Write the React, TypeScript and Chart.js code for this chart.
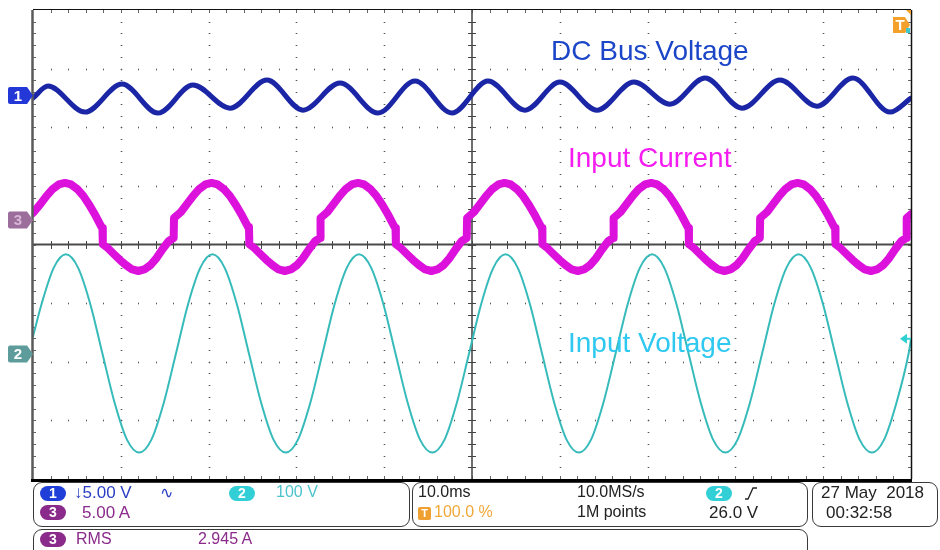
import React, { useEffect, useRef } from "react";
import { Chart, registerables } from "chart.js";

Chart.register(...registerables);

// ---- Data (read from the scope screen) ----
// time axis in ms, 10 ms/div, 10 divisions
const TIME_MIN = 0;
const TIME_MAX = 100;

// CH1: DC bus voltage (AC coupled ripple, volts)
const dcBusTime = [0, 1.71, 5.92, 10.14, 14.24, 18.22, 22.44, 26.65, 30.75, 34.97, 39.29, 43.51, 47.72, 51.82, 56.04, 60.02, 64.24, 68.45, 72.55, 76.54, 80.75, 85.08, 89.29, 93.39, 97.61, 100];
const dcBusRipple = [-0.21, 0.81, -1.41, 0.98, -1.49, 0.9, -1.07, 1.32, -1.24, 1.07, -1.49, 1.24, -1.49, 1.24, -1.24, 1.15, -1.24, 1.15, -0.73, 1.49, -1.07, 1.32, -0.9, 1.49, -1.41, -0.21];

// CH3: input current (amps)
const currentTime = [
  0, 0.86, 1.55, 2.25, 2.94,
  3.64, 4.34, 5.03, 5.73, 6.42, 7.12, 7.81, 7.91, 7.95, 8.51, 9.2, 9.9, 10.59, 11.29, 11.99, 12.68, 13.38, 14.07, 14.77, 15.46, 16.02, 16.06, 16.85, 17.55, 18.24, 18.94, 19.63,
  20.33, 21.03, 21.72, 22.42, 23.11, 23.81, 24.5, 24.6, 24.64, 25.2, 25.89, 26.59, 27.28, 27.98, 28.68, 29.37, 30.07, 30.76, 31.46, 32.15, 32.71, 32.75, 33.54, 34.24, 34.93, 35.63, 36.32,
  37.02, 37.72, 38.41, 39.11, 39.8, 40.5, 41.19, 41.29, 41.33, 41.89, 42.58, 43.28, 43.97, 44.67, 45.37, 46.06, 46.76, 47.45, 48.15, 48.84, 49.4, 49.44, 50.23, 50.93, 51.62, 52.32, 53.01,
  53.71, 54.41, 55.1, 55.8, 56.49, 57.19, 57.88, 57.98, 58.02, 58.58, 59.27, 59.97, 60.66, 61.36, 62.06, 62.75, 63.45, 64.14, 64.84, 65.53, 66.09, 66.13, 66.92, 67.62, 68.31, 69.01, 69.7,
  70.4, 71.1, 71.79, 72.49, 73.18, 73.88, 74.57, 74.67, 74.71, 75.27, 75.96, 76.66, 77.35, 78.05, 78.75, 79.44, 80.14, 80.83, 81.53, 82.22, 82.78, 82.82, 83.61, 84.31, 85.0, 85.7, 86.39,
  87.09, 87.79, 88.48, 89.18, 89.87, 90.57, 91.26, 91.36, 91.4, 91.96, 92.65, 93.35, 94.04, 94.74, 95.44, 96.13, 96.83, 97.52, 98.22, 98.91, 99.47, 99.51, 100,
];
const currentAmps = [
  0.6, 1.37, 2.06, 2.65, 3.03,
  3.16, 3.03, 2.65, 2.06, 1.28, 0.38, -0.6, -0.68, -2.05, -2.39, -2.9, -3.41, -3.85, -4.22, -4.35, -4.22, -3.85, -3.25, -2.47, -1.79, -1.54, 0.17, 0.68, 1.37, 2.06, 2.65, 3.03,
  3.16, 3.03, 2.65, 2.06, 1.28, 0.38, -0.6, -0.68, -2.05, -2.39, -2.9, -3.41, -3.85, -4.22, -4.35, -4.22, -3.85, -3.25, -2.47, -1.79, -1.54, 0.17, 0.68, 1.37, 2.06, 2.65, 3.03,
  3.16, 3.03, 2.65, 2.06, 1.28, 0.38, -0.6, -0.68, -2.05, -2.39, -2.9, -3.41, -3.85, -4.22, -4.35, -4.22, -3.85, -3.25, -2.47, -1.79, -1.54, 0.17, 0.68, 1.37, 2.06, 2.65, 3.03,
  3.16, 3.03, 2.65, 2.06, 1.28, 0.38, -0.6, -0.68, -2.05, -2.39, -2.9, -3.41, -3.85, -4.22, -4.35, -4.22, -3.85, -3.25, -2.47, -1.79, -1.54, 0.17, 0.68, 1.37, 2.06, 2.65, 3.03,
  3.16, 3.03, 2.65, 2.06, 1.28, 0.38, -0.6, -0.68, -2.05, -2.39, -2.9, -3.41, -3.85, -4.22, -4.35, -4.22, -3.85, -3.25, -2.47, -1.79, -1.54, 0.17, 0.68, 1.37, 2.06, 2.65, 3.03,
  3.16, 3.03, 2.65, 2.06, 1.28, 0.38, -0.6, -0.68, -2.05, -2.39, -2.9, -3.41, -3.85, -4.22, -4.35, -4.22, -3.85, -3.25, -2.47, -1.79, -1.54, 0.17, 0.49,
];

// CH2: input voltage (volts)
const inputVoltageTime = [
  0, 0.97, 2.36, 3.75, 5.14, 6.53, 7.92, 9.31, 10.7, 12.1, 13.49, 14.88, 16.27, 17.66, 19.05,
  20.44, 21.83, 23.22, 24.61, 26.0, 27.39, 28.79, 30.18, 31.57, 32.96, 34.35, 35.74,
  37.13, 38.52, 39.91, 41.3, 42.69, 44.08, 45.48, 46.87, 48.26, 49.65, 51.04, 52.43,
  53.82, 55.21, 56.6, 57.99, 59.38, 60.77, 62.17, 63.56, 64.95, 66.34, 67.73, 69.12,
  70.51, 71.9, 73.29, 74.68, 76.07, 77.46, 78.86, 80.25, 81.64, 83.03, 84.42, 85.81,
  87.2, 88.59, 89.98, 91.37, 92.76, 94.15, 95.55, 96.94, 98.33, 99.72, 100,
];
const inputVoltage = [
  30, 85, 147, 170, 147, 85, 0, -84, -146, -168, -146, -84, 0, 85, 147,
  170, 147, 85, 0, -84, -146, -168, -146, -84, 0, 85, 147,
  170, 147, 85, 0, -84, -146, -168, -146, -84, 0, 85, 147,
  170, 147, 85, 0, -84, -146, -168, -146, -84, 0, 85, 147,
  170, 147, 85, 0, -84, -146, -168, -146, -84, 0, 85, 147,
  170, 147, 85, 0, -84, -146, -168, -146, -84, 0, 25,
];

const triggerLevelVolts = 26.0;

// ---- Display settings ----
const CH1 = { perDiv: 5, offset: 2.54, color: "#1b26a6", marker: "#2338d6", markerText: "#ffffff", label: "1" };
const CH3 = { perDiv: 5, offset: 0.418, color: "#dc12dc", marker: "#9c6e9c", markerText: "#d8b8d8", label: "3" };
const CH2 = { perDiv: 100, offset: -1.868, color: "#36baba", marker: "#5e9c9c", markerText: "#ffffff", label: "2" };

const toPoints = (ts: number[], vs: number[], ch: { perDiv: number; offset: number }) =>
  ts.map((t, i) => ({ x: t, y: vs[i] / ch.perDiv + ch.offset }));

const FONT = "'Liberation Sans', Arial, sans-serif";

const scopeGrid = {
  id: "scopeGrid",
  beforeDatasetsDraw(chart: any) {
    const { ctx, chartArea: a, scales } = chart;
    const x = scales.x;
    const y = scales.y;
    ctx.save();
    // dotted major grid with 1/5-division dots
    for (let i = 1; i < 10; i++) {
      if (i === 5) continue;
      const px = Math.round(x.getPixelForValue(i * 10));
      for (let j = 1; j < 40; j++) {
        const py = Math.round(y.getPixelForValue(-4 + j * 0.2));
        ctx.fillStyle = "#c8c8c8";
        ctx.fillRect(px - 1, py, 3, 1);
        ctx.fillStyle = "#555";
        ctx.fillRect(px, py, 1, 1);
      }
    }
    for (let k = -3; k <= 3; k++) {
      if (k === 0) continue;
      const py = Math.round(y.getPixelForValue(k));
      for (let j = 1; j < 50; j++) {
        const px = Math.round(x.getPixelForValue(j * 2));
        ctx.fillStyle = "#c8c8c8";
        ctx.fillRect(px, py - 1, 1, 3);
        ctx.fillStyle = "#555";
        ctx.fillRect(px, py, 1, 1);
      }
    }
    // edge ticks
    ctx.fillStyle = "#666";
    for (let j = 1; j < 40; j++) {
      const py = Math.round(y.getPixelForValue(-4 + j * 0.2));
      ctx.fillRect(a.left, py, 3, 1);
      ctx.fillRect(a.right - 3, py, 3, 1);
    }
    for (let j = 1; j < 50; j++) {
      const px = Math.round(x.getPixelForValue(j * 2));
      ctx.fillRect(px, a.top, 1, 3);
      ctx.fillRect(px, a.bottom - 3, 1, 3);
    }
    // center cross
    const cy = y.getPixelForValue(0);
    const cx = x.getPixelForValue(50);
    ctx.strokeStyle = "#4a4a4a";
    ctx.lineWidth = 2;
    ctx.beginPath();
    ctx.moveTo(a.left, cy);
    ctx.lineTo(a.right, cy);
    ctx.stroke();
    ctx.lineWidth = 1.6;
    ctx.beginPath();
    ctx.moveTo(cx, a.top);
    ctx.lineTo(cx, a.bottom);
    ctx.stroke();
    ctx.fillStyle = "#444";
    for (let j = 1; j < 50; j++) {
      const px = Math.round(x.getPixelForValue(j * 2));
      ctx.fillRect(px, Math.round(cy) - 4, 1, 8);
    }
    for (let j = 1; j < 40; j++) {
      const py = Math.round(y.getPixelForValue(-4 + j * 0.2));
      ctx.fillRect(Math.round(cx) - 4, py, 8, 1);
    }
    ctx.restore();
  },
  afterDatasetsDraw(chart: any) {
    const { ctx, chartArea: a, scales } = chart;
    const x = scales.x;
    const y = scales.y;
    ctx.save();
    // frame
    ctx.strokeStyle = "#111";
    ctx.lineWidth = 1;
    ctx.beginPath();
    ctx.moveTo(a.left, a.top - 0.5);
    ctx.lineTo(a.right, a.top - 0.5);
    ctx.stroke();
    ctx.lineWidth = 1.5;
    ctx.beginPath();
    ctx.moveTo(a.right + 0.5, a.top);
    ctx.lineTo(a.right + 0.5, a.bottom);
    ctx.stroke();
    ctx.strokeStyle = "#5a5a5a";
    ctx.lineWidth = 2.5;
    ctx.beginPath();
    ctx.moveTo(a.left - 0.5, a.top);
    ctx.lineTo(a.left - 0.5, a.bottom);
    ctx.stroke();
    ctx.strokeStyle = "#000";
    ctx.lineWidth = 3;
    ctx.beginPath();
    ctx.moveTo(a.left - 2, a.bottom + 1.5);
    ctx.lineTo(a.right + 1, a.bottom + 1.5);
    ctx.stroke();

    // channel ground markers on the left
    const drawMarker = (ch: any) => {
      const cy = y.getPixelForValue(ch.offset);
      const l = 8, r = 27, tip = a.left, h = 8.5;
      ctx.fillStyle = ch.marker;
      ctx.beginPath();
      ctx.moveTo(l + 2, cy - h);
      ctx.lineTo(r, cy - h);
      ctx.lineTo(tip, cy);
      ctx.lineTo(r, cy + h);
      ctx.lineTo(l + 2, cy + h);
      ctx.quadraticCurveTo(l, cy + h, l, cy + h - 2);
      ctx.lineTo(l, cy - h + 2);
      ctx.quadraticCurveTo(l, cy - h, l + 2, cy - h);
      ctx.closePath();
      ctx.fill();
      ctx.fillStyle = ch.markerText;
      ctx.font = `bold 15px ${FONT}`;
      ctx.textAlign = "center";
      ctx.textBaseline = "middle";
      ctx.fillText(ch.label, 18, cy + 1);
    };
    drawMarker(CH1);
    drawMarker(CH3);
    drawMarker(CH2);

    // trigger position marker (top right)
    const tx = x.getPixelForValue(TIME_MAX);
    ctx.fillStyle = "#f3a12a";
    ctx.beginPath();
    ctx.moveTo(tx - 18, a.top + 7);
    ctx.lineTo(tx - 6, a.top + 7);
    ctx.lineTo(tx - 1, a.top + 15);
    ctx.lineTo(tx - 6, a.top + 23);
    ctx.lineTo(tx - 18, a.top + 23);
    ctx.closePath();
    ctx.fill();
    ctx.beginPath();
    ctx.moveTo(tx - 5, a.top);
    ctx.lineTo(tx, a.top);
    ctx.lineTo(tx, a.top + 5);
    ctx.closePath();
    ctx.fill();
    ctx.fillStyle = "#fff";
    ctx.font = `bold 15px ${FONT}`;
    ctx.textAlign = "center";
    ctx.textBaseline = "middle";
    ctx.fillText("T", tx - 11, a.top + 16);
    ctx.fillStyle = "#3fc9c9";
    ctx.fillRect(tx - 5, a.top + 18, 4, 5);

    // trigger level marker (right, on CH2)
    const ty = y.getPixelForValue(triggerLevelVolts / CH2.perDiv + CH2.offset);
    ctx.fillStyle = "#2fd0d0";
    ctx.beginPath();
    ctx.moveTo(tx - 11, ty);
    ctx.lineTo(tx - 4, ty - 5);
    ctx.lineTo(tx - 4, ty + 5);
    ctx.closePath();
    ctx.fill();
    ctx.fillRect(tx - 5, ty - 1, 5, 2);
    ctx.restore();
  },
};

const Badge = ({ left, top, bg, text }: { left: number; top: number; bg: string; text: string }) => (
  <div
    style={{
      position: "absolute",
      left,
      top,
      width: 26,
      height: 15,
      borderRadius: 8,
      background: bg,
      color: "#fff",
      font: `bold 14px ${FONT}`,
      lineHeight: "15px",
      textAlign: "center",
    }}
  >
    {text}
  </div>
);

const Txt = ({ left, cy, color, size = 16, children }: { left: number; cy: number; color: string; size?: number; children: any }) => (
  <div
    style={{
      position: "absolute",
      left,
      top: cy - 10,
      height: 20,
      lineHeight: "20px",
      font: `${size}px ${FONT}`,
      color,
      whiteSpace: "pre",
    }}
  >
    {children}
  </div>
);

const Box = ({ left, top, width, height }: { left: number; top: number; width: number; height: number }) => (
  <div
    style={{
      position: "absolute",
      left,
      top,
      width,
      height,
      border: "1.5px solid #3a3a3a",
      borderRadius: 9,
      boxSizing: "border-box",
    }}
  />
);

const Label = ({ left, top, color, children }: { left: number; top: number; color: string; children: any }) => (
  <div
    style={{
      position: "absolute",
      left,
      top,
      font: `28px ${FONT}`,
      lineHeight: "28px",
      color,
      whiteSpace: "pre",
    }}
  >
    {children}
  </div>
);

export default function App() {
  const canvasRef = useRef<HTMLCanvasElement | null>(null);

  useEffect(() => {
    if (!canvasRef.current) return;
    const chart = new Chart(canvasRef.current, {
      type: "line",
      data: {
        datasets: [
          {
            label: "DC Bus Voltage",
            data: toPoints(dcBusTime, dcBusRipple, CH1),
            borderColor: CH1.color,
            borderWidth: 5,
            cubicInterpolationMode: "monotone",
          },
          {
            label: "Input Current",
            data: toPoints(currentTime, currentAmps, CH3),
            borderColor: CH3.color,
            borderWidth: 8,
            cubicInterpolationMode: "default",
            tension: 0,
          },
          {
            label: "Input Voltage",
            data: toPoints(inputVoltageTime, inputVoltage, CH2),
            borderColor: CH2.color,
            borderWidth: 2,
            cubicInterpolationMode: "monotone",
          },
        ],
      },
      options: {
        animation: false,
        responsive: false,
        devicePixelRatio: 1,
        layout: { padding: { left: 33, right: 29, top: 10, bottom: 71 } },
        scales: {
          x: { type: "linear", min: TIME_MIN, max: TIME_MAX, display: false },
          y: { type: "linear", min: -4, max: 4, display: false },
        },
        plugins: { legend: { display: false }, tooltip: { enabled: false } },
        elements: {
          point: { radius: 0 },
          line: { borderJoinStyle: "round", borderCapStyle: "round" },
        },
      },
      plugins: [scopeGrid],
    } as any);
    return () => chart.destroy();
  }, []);

  return (
    <div style={{ position: "fixed", left: 0, top: 0, width: 940, height: 550, background: "#fff", overflow: "hidden" }}>
      <canvas ref={canvasRef} width={940} height={550} style={{ position: "absolute", left: 0, top: 0 }} />
      <Label left={551} top={37} color="#1c46c8">DC Bus Voltage</Label>
      <Label left={568} top={144} color="#f41cf0">Input Current</Label>
      <Label left={568} top={329} color="#2ec8f0">Input Voltage</Label>

      <Box left={33} top={482} width={377} height={45} />
      <Box left={412} top={482} width={396} height={45} />
      <Box left={812} top={482} width={126} height={45} />
      <Box left={33} top={529} width={775} height={32} />

      <Badge left={40} top={486} bg="#1f3fd8" text="1" />
      <Txt left={74} cy={493} color="#2a3ec4" size={17}>{"↓5.00 V"}</Txt>
      <Txt left={160} cy={493} color="#2a3ec4">{"∿"}</Txt>
      <Badge left={229} top={486} bg="#33cfd6" text="2" />
      <Txt left={276} cy={493} color="#4cc4cc">{"100 V"}</Txt>
      <Badge left={40} top={505} bg="#8a2a8a" text="3" />
      <Txt left={82} cy={513} color="#8a2a8a" size={17}>{"5.00 A"}</Txt>

      <Txt left={418} cy={493} color="#222">{"10.0ms"}</Txt>
      <div style={{ position: "absolute", left: 418, top: 507, width: 13, height: 13, background: "#f0a030", borderRadius: 2, color: "#fff", font: `bold 11px ${FONT}`, lineHeight: "13px", textAlign: "center" }}>T</div>
      <Txt left={434} cy={513} color="#f0a838">{"100.0 %"}</Txt>
      <Txt left={577} cy={493} color="#222">{"10.0MS/s"}</Txt>
      <Txt left={577} cy={513} color="#222">{"1M points"}</Txt>
      <Badge left={706} top={486} bg="#33cfd6" text="2" />
      <svg style={{ position: "absolute", left: 744, top: 486 }} width={14} height={15}>
        <polyline points="1,13 4,13 9,2 13,2" fill="none" stroke="#222" strokeWidth={1.3} />
      </svg>
      <Txt left={709} cy={513} color="#222" size={17}>{"26.0 V"}</Txt>

      <Txt left={821} cy={493} color="#222" size={17}>{"27 May  2018"}</Txt>
      <Txt left={826} cy={513} color="#222" size={17}>{"00:32:58"}</Txt>

      <Badge left={40} top={532} bg="#8a2a8a" text="3" />
      <Txt left={76} cy={540} color="#8a2a8a">{"RMS"}</Txt>
      <Txt left={198} cy={540} color="#8a2a8a">{"2.945 A"}</Txt>
    </div>
  );
}
